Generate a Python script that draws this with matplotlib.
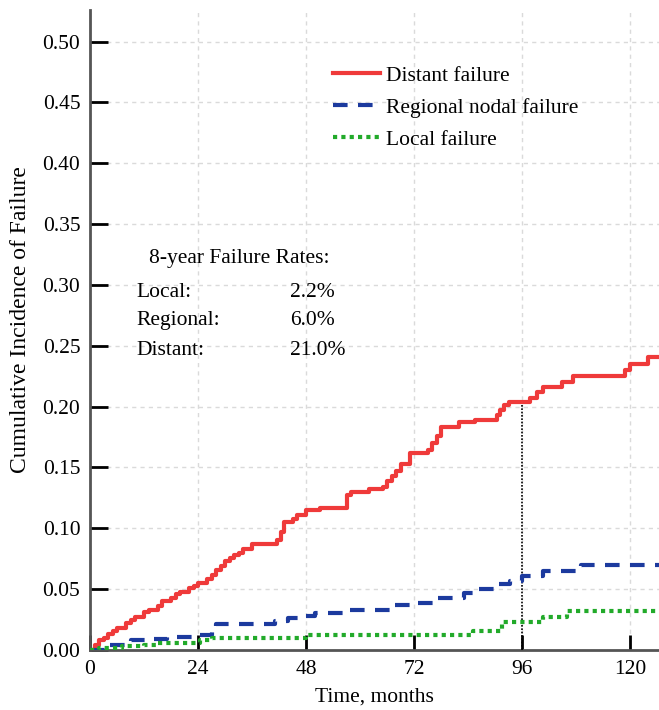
import matplotlib
matplotlib.use("Agg")
import matplotlib.pyplot as plt

plt.rcParams['font.family'] = ['Liberation Serif', 'DejaVu Serif']

# cumulative incidence step data
distant_months = [0, 1, 2, 3, 4, 5, 6, 8, 9, 10, 12, 13, 15, 16, 18, 19, 20, 22, 23, 24,
                  26, 27, 28, 29, 30, 31, 32, 33, 34, 36, 41.5, 42.5, 43, 45, 46, 48, 51,
                  57, 58, 62, 65, 66, 67, 68, 69, 71, 75, 76, 77, 78, 82, 85.5, 90.4, 91,
                  92, 93, 97.8, 99.3, 100.7, 104.9, 107.4, 118.9, 120, 124, 127]
distant_vals = [0, 0.004, 0.008, 0.01, 0.013, 0.016, 0.018, 0.022, 0.025, 0.027, 0.031,
                0.033, 0.036, 0.04, 0.043, 0.046, 0.048, 0.051, 0.053, 0.055, 0.058, 0.062,
                0.066, 0.069, 0.073, 0.076, 0.078, 0.08, 0.083, 0.087, 0.09, 0.097, 0.105,
                0.108, 0.111, 0.115, 0.117, 0.127, 0.13, 0.132, 0.134, 0.139, 0.143, 0.147,
                0.153, 0.162, 0.164, 0.17, 0.176, 0.183, 0.187, 0.189, 0.193, 0.197, 0.201,
                0.204, 0.207, 0.212, 0.216, 0.22, 0.225, 0.23, 0.235, 0.241, 0.241]

regional_months = [0, 4, 8, 9, 13, 17, 24, 27, 28, 41, 44, 47, 50, 57, 67, 71.5, 76.7, 83,
                   85, 90.4, 93.3, 96, 100.7, 109, 127]
regional_vals = [0, 0.004, 0.006, 0.008, 0.009, 0.011, 0.012, 0.015, 0.021, 0.024, 0.026,
                 0.028, 0.03, 0.033, 0.037, 0.039, 0.043, 0.047, 0.05, 0.054, 0.057, 0.061,
                 0.065, 0.07, 0.07]

local_months = [0, 2, 7, 12, 15, 24.5, 27, 48, 85, 91.5, 100.7, 106, 127]
local_vals = [0, 0.002, 0.003, 0.004, 0.006, 0.008, 0.01, 0.012, 0.016, 0.023, 0.027,
              0.032, 0.032]

rate_names = ['Local:', 'Regional:', 'Distant:']
rate_values = ['2.2%', '6.0%', '21.0%']
rate_y = [0.294, 0.2705, 0.246]

x_ticks = [0, 24, 48, 72, 96, 120]
y_ticks = [0.00, 0.05, 0.10, 0.15, 0.20, 0.25, 0.30, 0.35, 0.40, 0.45, 0.50]
mark_month = 96
mark_value = 0.204

FS = 15.5

fig = plt.figure(figsize=(6.59, 7.10), dpi=100)
ax = fig.add_axes([90 / 659, 60 / 710, 569 / 659, 640 / 710])

ax.plot(distant_months, distant_vals, drawstyle='steps-post', color='#ef3a3a', lw=3,
        label='Distant failure', zorder=4)
ax.plot(regional_months, regional_vals, drawstyle='steps-post', color='#1c3a9e', lw=3,
        dashes=(3.5, 2.5), label='Regional nodal failure', zorder=4)
ax.plot(local_months, local_vals, drawstyle='steps-post', color='#22aa2a', lw=3,
        dashes=(1, 1), label='Local failure', zorder=4)

ax.plot([mark_month, mark_month], [0, mark_value], color='black', lw=1.2, ls=(0, (1, 1)),
        zorder=3)

ax.set_xlim(0, 126.4)
ax.set_ylim(0, 0.526)
ax.set_xticks(x_ticks)
ax.set_yticks(y_ticks)
ax.set_yticklabels(['%.2f' % v for v in y_ticks])
ax.tick_params(axis='y', direction='in', length=13, width=2, pad=7, labelsize=FS)
ax.tick_params(axis='x', direction='in', length=11, width=2, pad=7, labelsize=FS)

for s in ['top', 'right']:
    ax.spines[s].set_visible(False)
for s in ['left', 'bottom']:
    ax.spines[s].set_color('#555555')
    ax.spines[s].set_linewidth(2)

ax.grid(True, color='#dadada', lw=1, ls=(0, (3, 3)))
ax.set_axisbelow(True)

ax.set_xlabel('Time, months', fontsize=FS, labelpad=6)
ax.set_ylabel('Cumulative Incidence of Failure', fontsize=17)
ax.yaxis.set_label_coords(-0.104, 0.516)

ax.text(13, 0.322, '8-year Failure Rates:', fontsize=FS, va='center')
for name, val, y in zip(rate_names, rate_values, rate_y):
    ax.text(10.4, y, name, fontsize=FS, va='center')
    ax.text(44.4, y, val, fontsize=FS, va='center')

ax.legend(loc='upper left', bbox_to_anchor=(0.427, 0.913), frameon=False, fontsize=FS,
          handlelength=2.2, handletextpad=0.25, labelspacing=0.55, borderpad=0,
          borderaxespad=0)

fig.savefig('out.png', dpi=100)
